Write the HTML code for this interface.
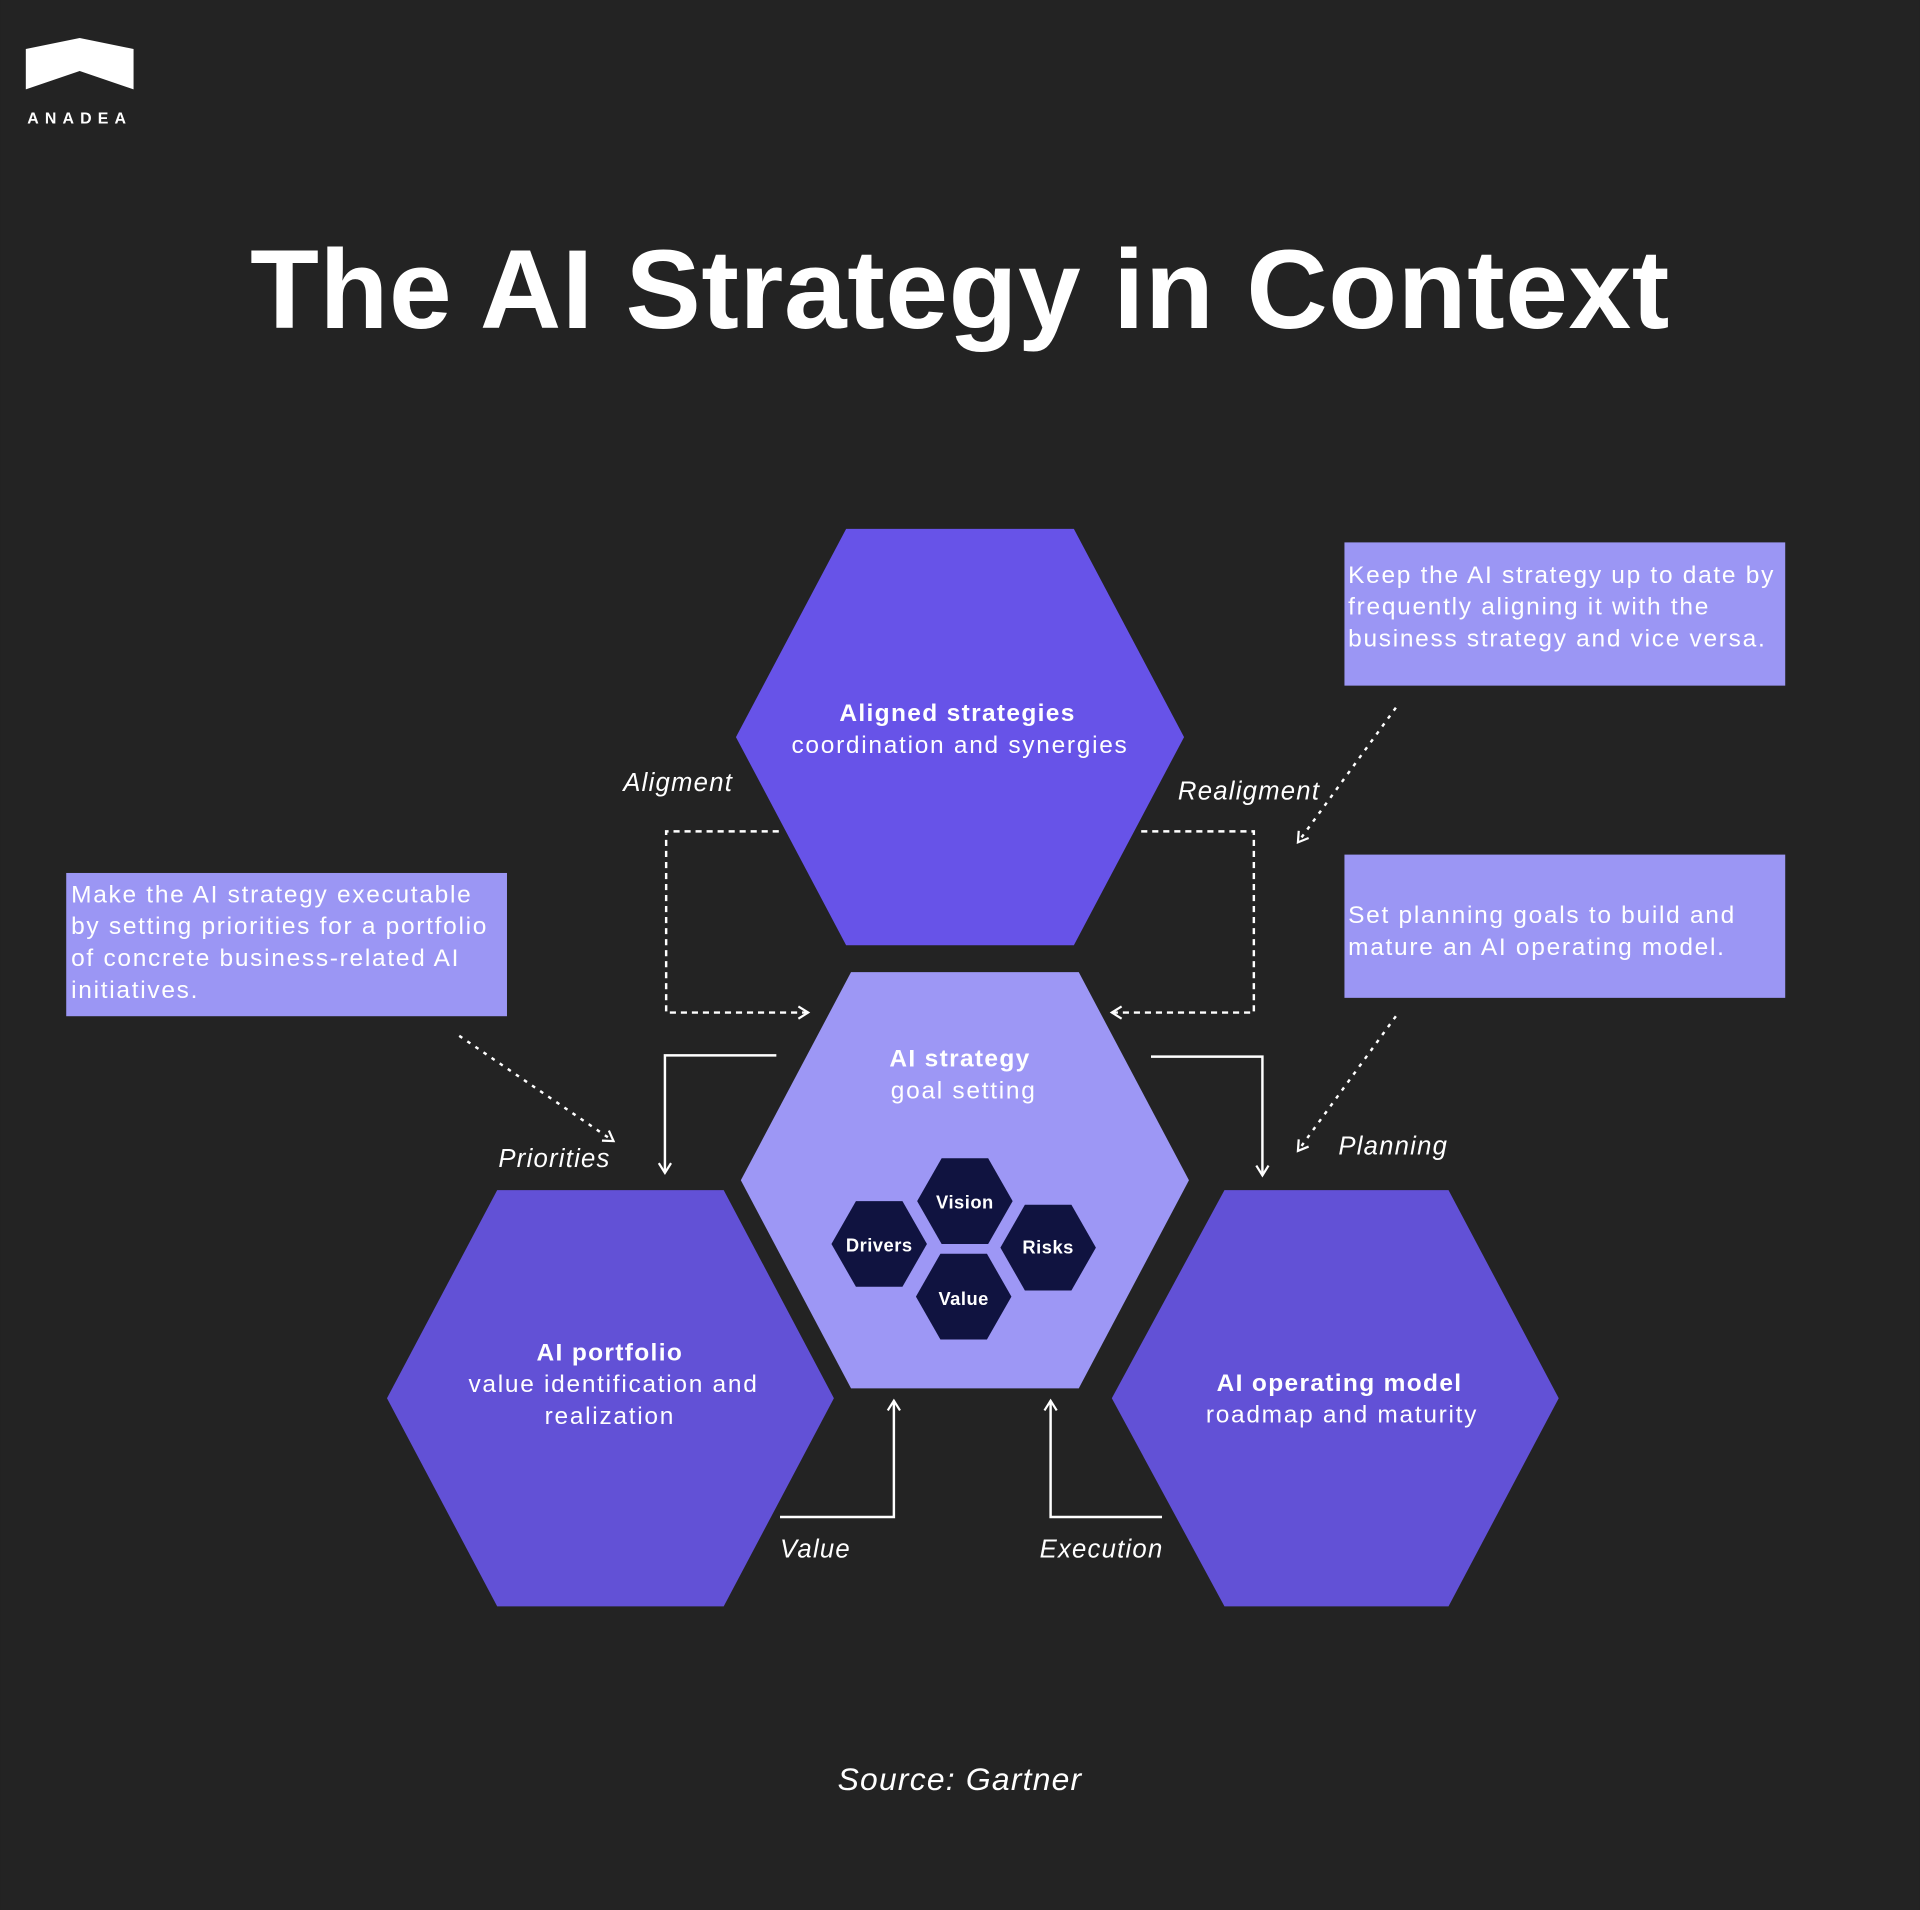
<!DOCTYPE html>
<html><head><meta charset="utf-8"><style>
html,body{margin:0;padding:0;background:#232323;}
svg{display:block;}
text{font-family:"Liberation Sans",sans-serif;}
</style></head><body>
<svg width="1920" height="1910" viewBox="0 0 1568 1560" xmlns="http://www.w3.org/2000/svg">
<rect width="1568" height="1560" fill="#232323"/>
<defs>
<marker id="ah" viewBox="0 0 12 12" refX="10" refY="6" markerWidth="12" markerHeight="12" markerUnits="userSpaceOnUse" orient="auto">
<path d="M2,1 L10,6 L2,11" fill="none" stroke="#fff" stroke-width="1.8"/>
</marker>
</defs>
<path d="M21,50 L21,40 L65,31 L109,40 L109,73 L65,58 L21,73 Z" fill="#fff"/>
<text x="65" y="101" font-size="13" fill="#fff" text-anchor="middle" letter-spacing="5" font-weight="bold">ANADEA</text>
<text x="784" y="268" font-size="92" font-weight="bold" fill="#fff" text-anchor="middle" letter-spacing="0.5">The AI Strategy in Context</text>

<polygon points="691,432 877,432 967,602 877,772 691,772 601,602" fill="#6753E8"/>
<polygon points="695,794 881,794 971,964 881,1134 695,1134 605,964" fill="#9D97F5"/>
<polygon points="406,972 591,972 681,1142 591,1312 406,1312 316,1142" fill="#6251D6"/>
<polygon points="1000,972 1183,972 1273,1142 1183,1312 1000,1312 908,1142" fill="#6251D6"/>

<g fill="#101340">
<polygon points="769,946 807,946 827,981 807,1016 769,1016 749,981"/>
<polygon points="699,981 737,981 757,1016 737,1051 699,1051 679,1016"/>
<polygon points="837,984 875,984 895,1019 875,1054 837,1054 817,1019"/>
<polygon points="768,1024 806,1024 826,1059 806,1094 768,1094 748,1059"/>
</g>
<g fill="#fff" font-size="15" font-weight="bold" text-anchor="middle" letter-spacing="0.4">
<text x="788" y="987">Vision</text>
<text x="718" y="1022">Drivers</text>
<text x="856" y="1024">Risks</text>
<text x="787" y="1066">Value</text>
</g>

<g fill="#fff" text-anchor="middle" font-size="20" letter-spacing="1.4">
<text x="782" y="589" font-weight="bold" letter-spacing="1.1">Aligned strategies</text>
<text x="784" y="615">coordination and synergies</text>
<text x="784" y="871" font-weight="bold" letter-spacing="1.1">AI strategy</text>
<text x="787" y="897">goal setting</text>
<text x="498" y="1111" font-weight="bold" letter-spacing="1.1">AI portfolio</text>
<text x="501" y="1137">value identification and</text>
<text x="498" y="1163">realization</text>
<text x="1094" y="1136" font-weight="bold" letter-spacing="1.1">AI operating model</text>
<text x="1096" y="1162">roadmap and maturity</text>
</g>

<g fill="#9B96F4">
<rect x="1098" y="443" width="360" height="117"/>
<rect x="1098" y="698" width="360" height="117"/>
<rect x="54" y="713" width="360" height="117"/>
</g>
<g fill="#fff" font-size="20" letter-spacing="1.4">
<text x="1101" y="476">Keep the AI strategy up to date by</text>
<text x="1101" y="502">frequently aligning it with the</text>
<text x="1101" y="528">business strategy and vice versa.</text>
<text x="1101" y="754">Set planning goals to build and</text>
<text x="1101" y="780">mature an AI operating model.</text>
<text x="58" y="737">Make the AI strategy executable</text>
<text x="58" y="763">by setting priorities for a portfolio</text>
<text x="58" y="789">of concrete business-related AI</text>
<text x="58" y="815">initiatives.</text>
</g>

<g fill="none" stroke="#fff" stroke-width="2">
<polyline points="636,679 544,679 544,827 660,827" stroke-dasharray="5,4" marker-end="url(#ah)"/>
<polyline points="932,679 1024,679 1024,827 908,827" stroke-dasharray="5,4" marker-end="url(#ah)"/>
<polyline points="634,862 543,862 543,958" marker-end="url(#ah)"/>
<polyline points="940,863 1031,863 1031,960" marker-end="url(#ah)"/>
<polyline points="637,1239 730,1239 730,1144" marker-end="url(#ah)"/>
<polyline points="949,1239 858,1239 858,1144" marker-end="url(#ah)"/>
<line x1="1140" y1="578" x2="1060" y2="688" stroke-dasharray="3,5" marker-end="url(#ah)"/>
<line x1="1140" y1="830" x2="1060" y2="940" stroke-dasharray="3,5" marker-end="url(#ah)"/>
<line x1="375" y1="846" x2="501" y2="932" stroke-dasharray="3,5" marker-end="url(#ah)"/>
</g>

<g fill="#fff" font-size="21" font-style="italic" letter-spacing="1">
<text x="509" y="646">Aligment</text>
<text x="962" y="653">Realigment</text>
<text x="407" y="953">Priorities</text>
<text x="1093" y="943">Planning</text>
<text x="637" y="1272">Value</text>
<text x="849" y="1272">Execution</text>
<text x="784" y="1462" font-size="26" text-anchor="middle">Source: Gartner</text>
</g>
</svg>
</body></html>
